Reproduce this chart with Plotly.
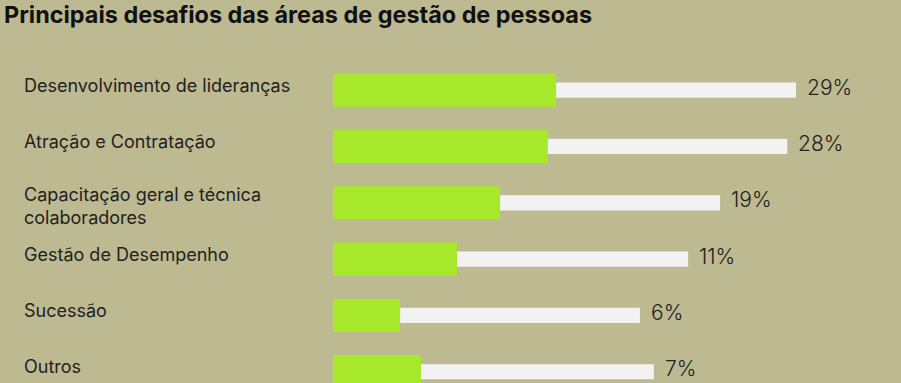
import plotly.graph_objects as go

# ---- data ----
categories = [
    "Desenvolvimento de lideranças",
    "Atração e Contratação",
    "Capacitação geral e técnica<br>colaboradores",
    "Gestão de Desempenho",
    "Sucessão",
    "Outros",
]
percent_labels = ["29%", "28%", "19%", "11%", "6%", "7%"]
# bar lengths as drawn in the infographic (relative units, longest track = 100)
progress = [48.2, 46.4, 36.1, 26.8, 14.5, 19.0]
track = [100, 98.1, 83.6, 76.7, 66.3, 69.3]

title = "Principais desafios das áreas de gestão de pessoas"

# ---- style ----
W, H = 901, 383
BG = "#BDB990"
GREEN = "#A8E82B"
TRACK = "#F2F2F2"
TEXT = "#222222"
FONT = "Inter"
ML, MR, MT, MB = 333, 20, 62, 0
plot_w = W - ML - MR
px_per_unit = 4.63

fig = go.Figure()
fig.add_trace(go.Bar(
    y=categories, x=track, orientation="h", width=0.27,
    marker=dict(color=TRACK, line=dict(width=0)),
    hoverinfo="skip", showlegend=False,
))
fig.add_trace(go.Bar(
    y=categories, x=progress, orientation="h", width=0.59,
    marker=dict(color=GREEN, line=dict(width=0), cornerradius=5),
    hoverinfo="skip", showlegend=False,
))

annotations = []
for cat, t, lab in zip(categories, track, percent_labels):
    annotations.append(dict(
        x=t, y=cat, xref="x", yref="y", text=lab, showarrow=False,
        xanchor="left", yanchor="middle", xshift=9, yshift=3,
        font=dict(family=FONT, size=21, color=TEXT, weight=300),
    ))
    annotations.append(dict(
        x=(22 - ML) / plot_w, y=cat, xref="paper", yref="y", text=cat,
        showarrow=False, xanchor="left", yanchor="middle", align="left",
        yshift=5 if "<br>" not in cat else -3,
        font=dict(family=FONT, size=18, color=TEXT),
    ))

fig.update_layout(
    width=W, height=H,
    paper_bgcolor=BG, plot_bgcolor=BG,
    margin=dict(l=ML, r=MR, t=MT, b=MB, pad=0),
    barmode="overlay",
    title=dict(
        text=f"<b>{title}</b>", x=4 / W, xref="container", xanchor="left",
        y=1 - 15 / H, yref="container", yanchor="middle",
        font=dict(family=FONT, size=23.4, color="#111111"),
    ),
    xaxis=dict(range=[0, plot_w / px_per_unit], visible=False, fixedrange=True),
    yaxis=dict(
        type="category", categoryorder="array", categoryarray=categories,
        range=[5.2, -0.5], visible=False, fixedrange=True,
    ),
    annotations=annotations,
)

fig.write_html(
    "out.html",
    config={"displayModeBar": False},
    post_script="document.body.style.margin='0';document.body.style.background='" + BG + "';",
)
